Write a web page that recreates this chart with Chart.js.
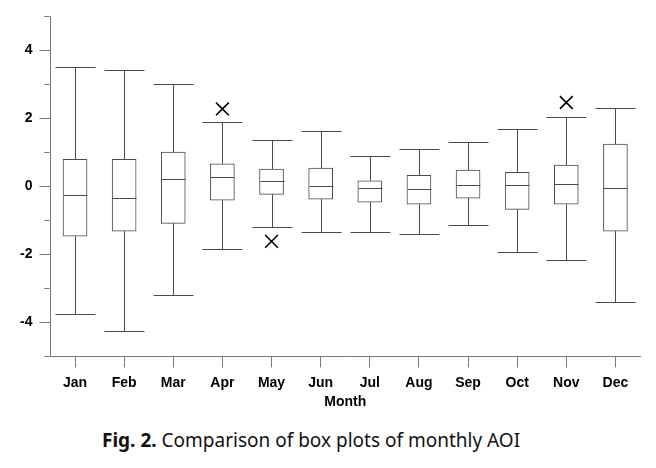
<!DOCTYPE html>
<html>
<head>
<meta charset="utf-8">
<script src="https://cdn.jsdelivr.net/npm/chart.js@4"></script>
<style>
    body { margin: 0; background: #fff; }
    #wrap { position: relative; width: 656px; height: 420px; }
    .caption {
        font-family: "Noto Sans", "Open Sans", sans-serif;
        font-size: 19px;
        color: #111;
        padding-left: 102px;
        margin-top: 7px;
        line-height: 26px;
    }
    .caption b { font-weight: 700; }
</style>
</head>
<body>
<div id="wrap"><canvas id="boxChart"></canvas></div>
<div class="caption"><b>Fig. 2.</b> Comparison of box plots of monthly AOI</div>

<script>
// monthly AOI box plot values
var months = ['Jan', 'Feb', 'Mar', 'Apr', 'May', 'Jun', 'Jul', 'Aug', 'Sep', 'Oct', 'Nov', 'Dec'];
var whiskerMax = [3.50, 3.41, 3.00, 1.88, 1.35, 1.62, 0.88, 1.09, 1.29, 1.68, 2.03, 2.29];
var q3 = [0.79, 0.79, 1.00, 0.66, 0.50, 0.53, 0.16, 0.32, 0.47, 0.41, 0.62, 1.24];
var median = [-0.26, -0.35, 0.21, 0.26, 0.15, 0.00, -0.06, -0.09, 0.03, 0.03, 0.06, -0.06];
var q1 = [-1.47, -1.32, -1.09, -0.41, -0.24, -0.38, -0.47, -0.53, -0.35, -0.68, -0.53, -1.32];
var whiskerMin = [-3.76, -4.26, -3.21, -1.85, -1.21, -1.35, -1.35, -1.41, -1.15, -1.93, -2.18, -3.41];
var outlierMonths = ['Apr', 'May', 'Nov'];
var outlierValues = [2.27, -1.62, 2.46];

var lineColor = '#4a4a4a';
var axisFont = { family: "'Liberation Sans', Arial, sans-serif", size: 14, weight: 'bold' };

// whiskers, caps, medians and minor y ticks
var boxExtras = {
    id: 'boxExtras',
    afterDatasetsDraw: function(chart) {
        var ctx = chart.ctx;
        var xs = chart.scales.x;
        var ys = chart.scales.y;
        var line = function(x1, y1, x2, y2) {
            ctx.beginPath();
            ctx.moveTo(x1, y1);
            ctx.lineTo(x2, y2);
            ctx.stroke();
        };
        ctx.save();
        ctx.strokeStyle = lineColor;
        ctx.lineWidth = 1;
        for (var i = 0; i < months.length; i++) {
            var cx = Math.round(xs.getPixelForValue(i)) + 0.5;
            var yMax = Math.round(ys.getPixelForValue(whiskerMax[i])) + 0.5;
            var yQ3 = ys.getPixelForValue(q3[i]);
            var yQ1 = ys.getPixelForValue(q1[i]);
            var yMin = Math.round(ys.getPixelForValue(whiskerMin[i])) + 0.5;
            var yMed = Math.round(ys.getPixelForValue(median[i])) + 0.5;
            line(cx, yMax, cx, yQ3);
            line(cx, yQ1, cx, yMin);
            line(cx - 20, yMax, cx + 20, yMax);
            line(cx - 20, yMin, cx + 20, yMin);
            line(cx - 12, yMed, cx + 12, yMed);
        }
        // minor ticks on odd values
        ctx.strokeStyle = '#777';
        var ax = Math.round(ys.right) - 0.5;
        for (var v = ys.min; v <= ys.max; v++) {
            if (v % 2 === 0) continue;
            var py = Math.round(ys.getPixelForValue(v)) + 0.5;
            line(ax - 5, py, ax, py);
        }
        ctx.restore();
    }
};

var ctx1 = document.getElementById('boxChart').getContext('2d');
var boxData = months.map(function(m, i) { return [q1[i], q3[i]]; });
var outlierData = outlierMonths.map(function(m, i) { return { x: m, y: outlierValues[i] }; });

window.myChart1 = new Chart(ctx1, {
    type: 'bar',
    data: {
        labels: months,
        datasets: [{
            label: 'Box',
            data: boxData,
            backgroundColor: '#ffffff',
            borderColor: lineColor,
            borderWidth: 1,
            borderSkipped: false,
            barThickness: 24,
            order: 2
        }, {
            type: 'scatter',
            label: 'Outlier',
            data: outlierData,
            pointStyle: 'crossRot',
            radius: 9,
            borderColor: '#000',
            borderWidth: 1.6,
            order: 1
        }]
    },
    options: {
        responsive: true,
        maintainAspectRatio: false,
        animation: false,
        layout: {
            padding: { left: 13, right: 16, top: 16, bottom: 9 }
        },
        plugins: {
            legend: { display: false },
            tooltip: { enabled: false }
        },
        scales: {
            x: {
                type: 'category',
                offset: true,
                border: { color: '#777', width: 1 },
                grid: { display: true, drawOnChartArea: false, tickLength: 11, color: '#777', offset: false },
                ticks: {
                    color: '#000',
                    padding: 7,
                    font: axisFont
                },
                title: {
                    display: true,
                    text: 'Month',
                    color: '#000',
                    padding: { top: -4, bottom: 0 },
                    font: axisFont
                }
            },
            y: {
                min: -5,
                max: 5,
                border: { color: '#777', width: 1 },
                grid: {
                    drawOnChartArea: false,
                    tickLength: 11,
                    tickColor: function(c) { return (c.tick && c.tick.value % 2 !== 0) ? 'rgba(0,0,0,0)' : '#777'; }
                },
                ticks: {
                    stepSize: 1,
                    color: '#000',
                    padding: 7,
                    font: axisFont,
                    callback: function(v) { return v % 2 === 0 ? String(v) : ''; }
                }
            }
        }
    },
    plugins: [boxExtras]
});
</script>
</body>
</html>
